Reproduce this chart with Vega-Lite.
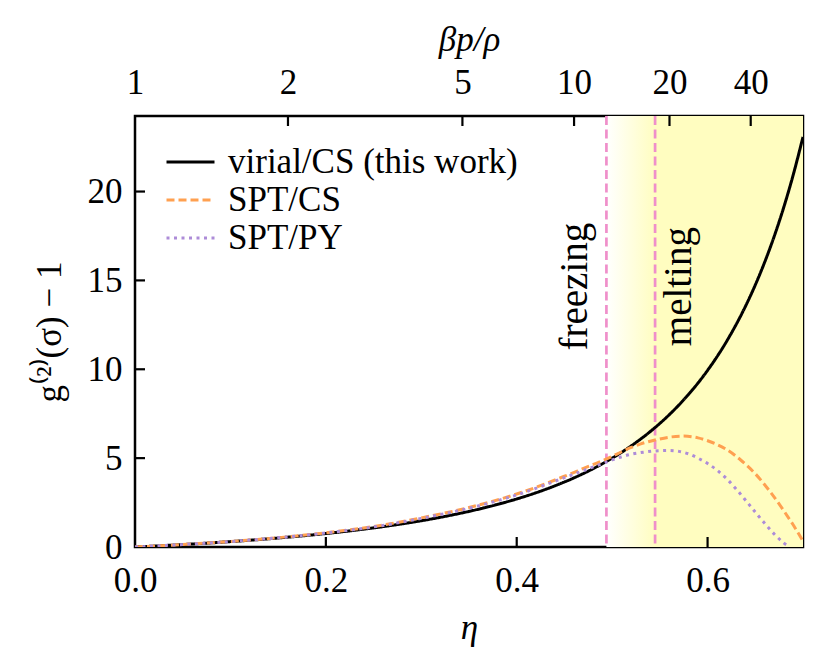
{
  "$schema": "https://vega.github.io/schema/vega-lite/v6.json",
  "width": 668,
  "height": 431,
  "autosize": {"type": "none"},
  "padding": {"left": 135, "top": 116, "right": 26, "bottom": 123},
  "background": "white",
  "config": {
    "font": "Liberation Serif",
    "view": {"stroke": "black", "strokeWidth": 2.5},
    "axis": {
      "domain": false,
      "grid": false,
      "ticks": false,
      "labelFlush": false,
      "labelFont": "Liberation Serif",
      "labelFontSize": 35,
      "labelColor": "black",
      "titleFont": "Liberation Serif",
      "titleFontSize": 35,
      "titleColor": "black",
      "titleFontWeight": "normal"
    },
    "legend": {
      "labelFont": "Liberation Serif",
      "labelFontSize": 35,
      "labelColor": "black",
      "labelLimit": 500
    }
  },
  "datasets": {
    "curves": [
      {"eta": 0.00, "g": 0.000, "model": "virial/CS (this work)"},
      {"eta": 0.02, "g": 0.052, "model": "virial/CS (this work)"},
      {"eta": 0.04, "g": 0.108, "model": "virial/CS (this work)"},
      {"eta": 0.06, "g": 0.168, "model": "virial/CS (this work)"},
      {"eta": 0.08, "g": 0.233, "model": "virial/CS (this work)"},
      {"eta": 0.10, "g": 0.303, "model": "virial/CS (this work)"},
      {"eta": 0.12, "g": 0.379, "model": "virial/CS (this work)"},
      {"eta": 0.14, "g": 0.462, "model": "virial/CS (this work)"},
      {"eta": 0.16, "g": 0.552, "model": "virial/CS (this work)"},
      {"eta": 0.18, "g": 0.650, "model": "virial/CS (this work)"},
      {"eta": 0.20, "g": 0.758, "model": "virial/CS (this work)"},
      {"eta": 0.22, "g": 0.875, "model": "virial/CS (this work)"},
      {"eta": 0.24, "g": 1.005, "model": "virial/CS (this work)"},
      {"eta": 0.26, "g": 1.147, "model": "virial/CS (this work)"},
      {"eta": 0.28, "g": 1.304, "model": "virial/CS (this work)"},
      {"eta": 0.30, "g": 1.478, "model": "virial/CS (this work)"},
      {"eta": 0.32, "g": 1.671, "model": "virial/CS (this work)"},
      {"eta": 0.34, "g": 1.887, "model": "virial/CS (this work)"},
      {"eta": 0.36, "g": 2.128, "model": "virial/CS (this work)"},
      {"eta": 0.38, "g": 2.399, "model": "virial/CS (this work)"},
      {"eta": 0.40, "g": 2.704, "model": "virial/CS (this work)"},
      {"eta": 0.42, "g": 3.049, "model": "virial/CS (this work)"},
      {"eta": 0.44, "g": 3.442, "model": "virial/CS (this work)"},
      {"eta": 0.46, "g": 3.890, "model": "virial/CS (this work)"},
      {"eta": 0.48, "g": 4.405, "model": "virial/CS (this work)"},
      {"eta": 0.50, "g": 5.000, "model": "virial/CS (this work)"},
      {"eta": 0.52, "g": 5.691, "model": "virial/CS (this work)"},
      {"eta": 0.54, "g": 6.500, "model": "virial/CS (this work)"},
      {"eta": 0.56, "g": 7.452, "model": "virial/CS (this work)"},
      {"eta": 0.58, "g": 8.583, "model": "virial/CS (this work)"},
      {"eta": 0.60, "g": 9.938, "model": "virial/CS (this work)"},
      {"eta": 0.62, "g": 11.575, "model": "virial/CS (this work)"},
      {"eta": 0.64, "g": 13.575, "model": "virial/CS (this work)"},
      {"eta": 0.65, "g": 14.743, "model": "virial/CS (this work)"},
      {"eta": 0.66, "g": 16.047, "model": "virial/CS (this work)"},
      {"eta": 0.67, "g": 17.505, "model": "virial/CS (this work)"},
      {"eta": 0.68, "g": 19.142, "model": "virial/CS (this work)"},
      {"eta": 0.69, "g": 20.987, "model": "virial/CS (this work)"},
      {"eta": 0.70, "g": 23.074, "model": "virial/CS (this work)"},
      {"eta": 0.00, "g": 0.000, "model": "SPT/CS"},
      {"eta": 0.05, "g": 0.138, "model": "SPT/CS"},
      {"eta": 0.10, "g": 0.310, "model": "SPT/CS"},
      {"eta": 0.15, "g": 0.525, "model": "SPT/CS"},
      {"eta": 0.20, "g": 0.800, "model": "SPT/CS"},
      {"eta": 0.25, "g": 1.150, "model": "SPT/CS"},
      {"eta": 0.30, "g": 1.640, "model": "SPT/CS"},
      {"eta": 0.35, "g": 2.220, "model": "SPT/CS"},
      {"eta": 0.40, "g": 2.980, "model": "SPT/CS"},
      {"eta": 0.45, "g": 3.980, "model": "SPT/CS"},
      {"eta": 0.47, "g": 4.420, "model": "SPT/CS"},
      {"eta": 0.49, "g": 4.860, "model": "SPT/CS"},
      {"eta": 0.50, "g": 5.100, "model": "SPT/CS"},
      {"eta": 0.51, "g": 5.360, "model": "SPT/CS"},
      {"eta": 0.52, "g": 5.600, "model": "SPT/CS"},
      {"eta": 0.53, "g": 5.800, "model": "SPT/CS"},
      {"eta": 0.545, "g": 6.020, "model": "SPT/CS"},
      {"eta": 0.56, "g": 6.180, "model": "SPT/CS"},
      {"eta": 0.575, "g": 6.240, "model": "SPT/CS"},
      {"eta": 0.59, "g": 6.140, "model": "SPT/CS"},
      {"eta": 0.605, "g": 5.880, "model": "SPT/CS"},
      {"eta": 0.62, "g": 5.480, "model": "SPT/CS"},
      {"eta": 0.635, "g": 4.880, "model": "SPT/CS"},
      {"eta": 0.65, "g": 4.120, "model": "SPT/CS"},
      {"eta": 0.665, "g": 3.150, "model": "SPT/CS"},
      {"eta": 0.68, "g": 2.030, "model": "SPT/CS"},
      {"eta": 0.69, "g": 1.220, "model": "SPT/CS"},
      {"eta": 0.70, "g": 0.330, "model": "SPT/CS"},
      {"eta": 0.00, "g": 0.000, "model": "SPT/PY"},
      {"eta": 0.05, "g": 0.138, "model": "SPT/PY"},
      {"eta": 0.10, "g": 0.308, "model": "SPT/PY"},
      {"eta": 0.15, "g": 0.520, "model": "SPT/PY"},
      {"eta": 0.20, "g": 0.790, "model": "SPT/PY"},
      {"eta": 0.25, "g": 1.130, "model": "SPT/PY"},
      {"eta": 0.30, "g": 1.610, "model": "SPT/PY"},
      {"eta": 0.35, "g": 2.180, "model": "SPT/PY"},
      {"eta": 0.40, "g": 2.930, "model": "SPT/PY"},
      {"eta": 0.45, "g": 3.900, "model": "SPT/PY"},
      {"eta": 0.47, "g": 4.300, "model": "SPT/PY"},
      {"eta": 0.49, "g": 4.700, "model": "SPT/PY"},
      {"eta": 0.50, "g": 4.900, "model": "SPT/PY"},
      {"eta": 0.51, "g": 5.080, "model": "SPT/PY"},
      {"eta": 0.52, "g": 5.220, "model": "SPT/PY"},
      {"eta": 0.535, "g": 5.350, "model": "SPT/PY"},
      {"eta": 0.55, "g": 5.420, "model": "SPT/PY"},
      {"eta": 0.56, "g": 5.430, "model": "SPT/PY"},
      {"eta": 0.57, "g": 5.380, "model": "SPT/PY"},
      {"eta": 0.58, "g": 5.240, "model": "SPT/PY"},
      {"eta": 0.59, "g": 5.000, "model": "SPT/PY"},
      {"eta": 0.60, "g": 4.700, "model": "SPT/PY"},
      {"eta": 0.61, "g": 4.320, "model": "SPT/PY"},
      {"eta": 0.62, "g": 3.840, "model": "SPT/PY"},
      {"eta": 0.63, "g": 3.260, "model": "SPT/PY"},
      {"eta": 0.64, "g": 2.620, "model": "SPT/PY"},
      {"eta": 0.65, "g": 1.960, "model": "SPT/PY"},
      {"eta": 0.66, "g": 1.320, "model": "SPT/PY"},
      {"eta": 0.67, "g": 0.720, "model": "SPT/PY"},
      {"eta": 0.68, "g": 0.220, "model": "SPT/PY"},
      {"eta": 0.686, "g": 0.000, "model": "SPT/PY"}
    ],
    "phases": [
      {"eta": 0.494, "label": "freezing", "g": 14.65},
      {"eta": 0.545, "label": "melting", "g": 14.65}
    ],
    "shade": [
      {"start": 0.494, "end": 0.70}
    ],
    "bottomticks": [
      {"eta": 0.2, "g": 0},
      {"eta": 0.4, "g": 0},
      {"eta": 0.6, "g": 0}
    ],
    "topticks": [
      {"eta": 0.1603, "g": 24.25},
      {"eta": 0.3431, "g": 24.25},
      {"eta": 0.4601, "g": 24.25},
      {"eta": 0.5601, "g": 24.25},
      {"eta": 0.6452, "g": 24.25}
    ],
    "leftticks": [
      {"eta": 0, "g": 5},
      {"eta": 0, "g": 10},
      {"eta": 0, "g": 15},
      {"eta": 0, "g": 20}
    ]
  },
  "layer": [
    {
      "data": {"name": "shade"},
      "mark": {
        "type": "rect",
        "fill": {
          "gradient": "linear",
          "x1": 0, "y1": 0, "x2": 1, "y2": 0,
          "stops": [
            {"offset": 0, "color": "#ffffff"},
            {"offset": 0.25, "color": "#fffdc0"},
            {"offset": 1, "color": "#fffdc0"}
          ]
        }
      },
      "encoding": {
        "x": {
          "field": "start",
          "type": "quantitative",
          "scale": {"domain": [0, 0.7], "nice": false, "zero": false},
          "axis": {
            "orient": "top",
            "title": "βp/ρ",
            "titleFontStyle": "italic",
            "titlePadding": 8,
            "values": [0, 0.1603, 0.3431, 0.4601, 0.5601, 0.6452],
            "labelExpr": "datum.value < 0.05 ? '1' : datum.value < 0.25 ? '2' : datum.value < 0.4 ? '5' : datum.value < 0.5 ? '10' : datum.value < 0.6 ? '20' : '40'",
            "labelPadding": 16
          }
        },
        "x2": {"field": "end"}
      }
    },
    {
      "layer": [
        {
          "data": {"name": "phases"},
          "mark": {"type": "rule", "color": "#ef8fca", "strokeWidth": 2.7, "strokeDash": [9, 4.5]},
          "encoding": {
            "x": {"field": "eta", "type": "quantitative", "scale": {"domain": [0, 0.7], "nice": false, "zero": false}}
          }
        },
        {
          "data": {"name": "curves"},
          "mark": {"type": "line", "strokeWidth": 3, "interpolate": "monotone", "clip": true},
          "encoding": {
            "x": {
              "field": "eta",
              "type": "quantitative",
              "scale": {"domain": [0, 0.7], "nice": false, "zero": false},
              "axis": {
                "orient": "bottom",
                "title": "η",
                "titleFontStyle": "italic",
                "titlePadding": 12,
                "values": [0, 0.2, 0.4, 0.6],
                "format": ".1f",
                "labelPadding": 16
              }
            },
            "y": {
              "field": "g",
              "type": "quantitative",
              "scale": {"domain": [0, 24.25], "nice": false},
              "axis": {
                "title": "g⁽²⁾(σ) − 1",
                "titlePadding": 20,
                "values": [0, 5, 10, 15, 20],
                "labelPadding": 13
              }
            },
            "color": {
              "field": "model",
              "type": "nominal",
              "sort": null,
              "scale": {
                "domain": ["virial/CS (this work)", "SPT/CS", "SPT/PY"],
                "range": ["#000000", "#ffa050", "#ad8cd8"]
              },
              "legend": {
                "title": null,
                "orient": "none",
                "legendX": 30,
                "legendY": 27,
                "symbolType": "stroke",
                "symbolSize": 2304,
                "symbolStrokeWidth": 3,
                "clipHeight": 38,
                "rowPadding": 0,
                "labelOffset": 12,
                "padding": 0
              }
            },
            "strokeDash": {
              "field": "model",
              "type": "nominal",
              "sort": null,
              "scale": {
                "domain": ["virial/CS (this work)", "SPT/CS", "SPT/PY"],
                "range": [[1, 0], [8, 4], [3, 4.5]]
              },
              "legend": {
                "title": null,
                "orient": "none",
                "legendX": 30,
                "legendY": 27,
                "symbolType": "stroke",
                "symbolSize": 2304,
                "symbolStrokeWidth": 3,
                "clipHeight": 38,
                "rowPadding": 0,
                "labelOffset": 12,
                "padding": 0
              }
            }
          }
        },
        {
          "data": {"name": "bottomticks"},
          "mark": {"type": "rule", "color": "black", "strokeWidth": 2.2, "y2Offset": -10},
          "encoding": {
            "x": {"field": "eta", "type": "quantitative", "scale": {"domain": [0, 0.7], "nice": false, "zero": false}},
            "y": {"field": "g", "type": "quantitative"},
            "y2": {"field": "g"}
          }
        },
        {
          "data": {"name": "topticks"},
          "mark": {"type": "rule", "color": "black", "strokeWidth": 2.2, "y2Offset": 10},
          "encoding": {
            "x": {"field": "eta", "type": "quantitative", "scale": {"domain": [0, 0.7], "nice": false, "zero": false}},
            "y": {"field": "g", "type": "quantitative"},
            "y2": {"field": "g"}
          }
        },
        {
          "data": {"name": "leftticks"},
          "mark": {"type": "rule", "color": "black", "strokeWidth": 2.2, "x2Offset": 10},
          "encoding": {
            "x": {"field": "eta", "type": "quantitative", "scale": {"domain": [0, 0.7], "nice": false, "zero": false}},
            "x2": {"field": "eta"},
            "y": {"field": "g", "type": "quantitative"}
          }
        },
        {
          "data": {"name": "phases"},
          "transform": [{"filter": "datum.label == 'freezing'"}],
          "mark": {"type": "text", "angle": 270, "align": "center", "baseline": "bottom", "dy": -11, "fontSize": 39, "font": "Liberation Serif", "color": "black"},
          "encoding": {
            "x": {"field": "eta", "type": "quantitative", "scale": {"domain": [0, 0.7], "nice": false, "zero": false}},
            "y": {"field": "g", "type": "quantitative"},
            "text": {"field": "label"}
          }
        },
        {
          "data": {"name": "phases"},
          "transform": [{"filter": "datum.label == 'melting'"}],
          "mark": {"type": "text", "angle": 270, "align": "center", "baseline": "top", "dy": 5, "fontSize": 39, "font": "Liberation Serif", "color": "black"},
          "encoding": {
            "x": {"field": "eta", "type": "quantitative", "scale": {"domain": [0, 0.7], "nice": false, "zero": false}},
            "y": {"field": "g", "type": "quantitative"},
            "text": {"field": "label"}
          }
        }
      ]
    }
  ],
  "resolve": {"scale": {"x": "independent"}, "axis": {"x": "independent"}}
}
